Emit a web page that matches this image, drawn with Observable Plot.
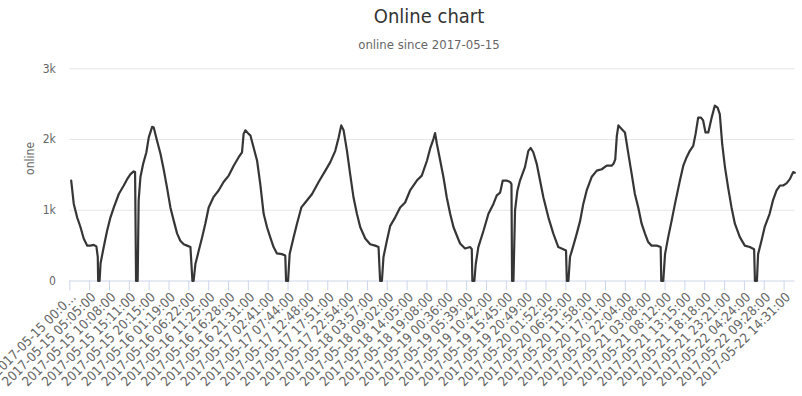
<!DOCTYPE html>
<html>
<head>
<meta charset="utf-8">
<script src="https://cdn.jsdelivr.net/npm/d3@7"></script>
<script src="https://cdn.jsdelivr.net/npm/@observablehq/plot@0.6"></script>
<style>
  html, body { margin: 0; padding: 0; background: #fff; }
  #wrap { position: relative; width: 802px; height: 396px; overflow: hidden;
          font-family: "DejaVu Sans Condensed", "Liberation Sans Narrow", "DejaVu Sans", sans-serif; font-stretch: condensed; }
  #title { position: absolute; left: 56px; right: 0; top: 4px; line-height: 24px; text-align: center; font-size: 20px; color: #333; }
  #subtitle { position: absolute; left: 56px; right: 0; top: 36px; line-height: 18px; text-align: center; font-size: 13px; color: #666; }
  #chart { position: absolute; left: 0; top: 56px; }
  #chart svg { font-family: "DejaVu Sans Condensed", "Liberation Sans Narrow", "DejaVu Sans", sans-serif; font-stretch: condensed; }
</style>
</head>
<body>
<div id="wrap">
  <div id="title">Online chart</div>
  <div id="subtitle">online since 2017-05-15</div>
  <div id="chart"></div>
</div>
<script>
// Category tick labels (one per tick position 0..36)
const tickLabels = [
  "2017-05-15 00:0…", "2017-05-15 05:05:00", "2017-05-15 10:08:00", "2017-05-15 15:11:00",
  "2017-05-15 20:15:00", "2017-05-16 01:19:00", "2017-05-16 06:22:00", "2017-05-16 11:25:00",
  "2017-05-16 16:28:00", "2017-05-16 21:31:00", "2017-05-17 02:41:00", "2017-05-17 07:44:00",
  "2017-05-17 12:48:00", "2017-05-17 17:51:00", "2017-05-17 22:54:00", "2017-05-18 03:57:00",
  "2017-05-18 09:02:00", "2017-05-18 14:05:00", "2017-05-18 19:08:00", "2017-05-19 00:36:00",
  "2017-05-19 05:39:00", "2017-05-19 10:42:00", "2017-05-19 15:45:00", "2017-05-19 20:49:00",
  "2017-05-20 01:52:00", "2017-05-20 06:55:00", "2017-05-20 11:58:00", "2017-05-20 17:01:00",
  "2017-05-20 22:04:00", "2017-05-21 03:08:00", "2017-05-21 08:12:00", "2017-05-21 13:15:00",
  "2017-05-21 18:18:00", "2017-05-21 23:21:00", "2017-05-22 04:24:00", "2017-05-22 09:28:00",
  "2017-05-22 14:31:00"
];

// Position of each reading along the category axis (in tick units)
const position = [
  0.07,0.20,0.37,0.54,0.70,0.88,1.04,1.21,1.34,1.41,1.43,1.50,1.55,1.71,1.88,2.05,2.22,2.47,2.72,2.89,
  3.06,3.22,3.29,3.34,3.42,3.47,3.56,3.70,3.86,3.98,4.15,4.23,4.40,4.57,4.73,4.90,5.07,5.24,5.41,5.57,
  5.74,5.91,6.08,6.18,6.24,6.33,6.50,6.67,6.83,7.00,7.25,7.50,7.75,8.01,8.26,8.51,8.68,8.76,8.85,9.01,
  9.10,9.26,9.44,9.60,9.77,9.94,10.10,10.27,10.44,10.69,10.86,10.90,11.00,11.08,11.28,11.45,11.67,11.87,12.21,12.54,
  12.88,13.13,13.38,13.55,13.68,13.80,13.97,14.13,14.30,14.47,14.64,14.89,15.14,15.39,15.56,15.64,15.73,15.81,15.98,16.15,
  16.40,16.65,16.90,17.15,17.49,17.74,18.00,18.16,18.33,18.41,18.50,18.67,18.83,19.00,19.17,19.34,19.51,19.67,19.92,20.18,
  20.26,20.29,20.39,20.46,20.59,20.85,21.10,21.35,21.52,21.69,21.82,22.02,22.19,22.26,22.29,22.36,22.44,22.56,22.69,22.94,
  23.11,23.23,23.36,23.53,23.70,23.87,24.12,24.37,24.62,24.87,25.01,25.05,25.13,25.21,25.38,25.55,25.72,25.88,26.05,26.30,
  26.56,26.81,27.06,27.31,27.41,27.49,27.57,27.65,27.81,27.98,28.15,28.32,28.48,28.65,28.82,28.99,29.15,29.32,29.58,29.78,
  29.81,29.91,30.00,30.16,30.33,30.50,30.75,30.92,31.09,31.25,31.42,31.54,31.67,31.81,31.92,32.04,32.18,32.35,32.51,32.65,
  32.76,32.88,33.02,33.18,33.35,33.52,33.77,34.02,34.27,34.49,34.53,34.63,34.69,34.86,35.02,35.27,35.44,35.62,35.79,35.95,
  36.12,36.29,36.46,36.54
];

// Users online at each reading
const online = [
  1420,1090,900,760,600,500,500,510,490,340,0,0,250,480,710,900,1040,1230,1350,1440,
  1510,1550,1540,0,0,1140,1470,1660,1820,2030,2180,2170,1980,1800,1580,1320,1040,850,670,570,
  520,500,480,0,0,240,430,620,810,1040,1190,1280,1400,1490,1630,1750,1820,2080,2130,2080,
  2060,1890,1700,1370,950,760,620,480,390,380,360,0,0,380,620,810,1040,1110,1230,1400,
  1560,1680,1840,2030,2200,2130,1840,1510,1180,950,760,600,520,500,480,0,0,340,570,780,
  900,1040,1110,1280,1420,1490,1700,1870,2010,2090,1940,1700,1470,1180,950,760,640,530,460,480,
  450,0,0,240,480,710,950,1090,1210,1250,1420,1420,1400,1370,0,0,1000,1280,1420,1610,
  1840,1880,1820,1660,1420,1180,900,670,480,450,430,0,0,340,500,670,850,1090,1280,1470,
  1560,1580,1630,1630,1660,1720,2050,2200,2150,2100,1800,1510,1230,1040,810,670,550,500,500,480,
  0,0,380,620,850,1090,1420,1630,1750,1840,1910,2080,2310,2310,2270,2100,2100,2310,2480,2450,
  2360,1940,1610,1320,1040,810,620,500,480,450,0,0,380,570,760,950,1140,1280,1350,1350,
  1380,1440,1540,1530
];

const yTicks = [0, 1000, 2000, 3000];

const data = position.map((t, i) => ({t, v: online[i]}));
const tickIdx = tickLabels.map((_, i) => i);

const chart = Plot.plot({
  width: 802,
  height: 340,
  marginLeft: 69.3,
  marginRight: 7.5,
  marginTop: 12.3,
  marginBottom: 115.5,
  style: {background: "transparent", fontSize: "12px", color: "#666"},
  x: {domain: [0, 36.55], axis: null},
  y: {domain: [0, 3000], axis: null},
  marks: [
    Plot.gridY(yTicks.slice(1), {stroke: "#e6e6e6", strokeOpacity: 1}),
    Plot.axisY(yTicks, {tickSize: 0, tickPadding: 14, fill: "#666", fontSize: 12,
      tickFormat: d => d === 0 ? "0" : (d / 1000) + "k", label: null}),
    Plot.text(["online"], {frameAnchor: "left", text: d => d, rotate: -90, dx: -40, fill: "#666", fontSize: 12}),
    Plot.ruleY([0], {stroke: "#ccd6eb"}),
    Plot.axisX(tickIdx, {tickSize: 10, stroke: "#ccd6eb", tickFormat: () => "", label: null}),
    Plot.text(tickIdx, {x: d => d, frameAnchor: "bottom", text: d => tickLabels[d],
      rotate: -45, textAnchor: "end", lineAnchor: "middle", dx: 4, dy: 14, fill: "#666", fontSize: 13.2}),
    Plot.line(data, {x: "t", y: "v", stroke: "#363636", strokeWidth: 2.2})
  ]
});
document.getElementById("chart").appendChild(chart);
</script>
</body>
</html>
